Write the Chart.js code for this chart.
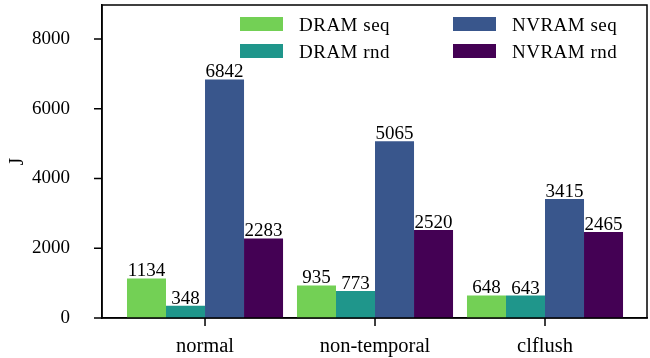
<!DOCTYPE html>
<html>
<head>
<meta charset="utf-8">
<script src="https://cdn.jsdelivr.net/npm/chart.js@4/dist/chart.umd.min.js"></script>
<style>
html,body{margin:0;padding:0;background:#fff;}
#wrap{width:650px;height:358px;}
</style>
</head>
<body>
<div id="wrap"><canvas id="c" width="650" height="358"></canvas></div>
<script>
const categories = ["normal", "non-temporal", "clflush"];
const seriesNames = ["DRAM seq", "DRAM rnd", "NVRAM seq", "NVRAM rnd"];
const dramSeq = [1134, 935, 648];
const dramRnd = [348, 773, 643];
const nvramSeq = [6842, 5065, 3415];
const nvramRnd = [2283, 2520, 2465];
const yTicks = [0, 2000, 4000, 6000, 8000];
const colors = ["#73D055", "#1F968B", "#39568C", "#440154"];

const FONT = "'Liberation Serif', serif";
const allSeries = [dramSeq, dramRnd, nvramSeq, nvramRnd];

const datasets = allSeries.map((vals, i) => ({
  label: seriesNames[i],
  data: vals.map((v, j) => ({x: j, y: v})),
  backgroundColor: colors[i],
  borderWidth: 0,
  barPercentage: 1.0,
  categoryPercentage: 0.918
}));

const framePlugin = {
  id: 'frame',
  afterDatasetsDraw(chart) {
    const ctx = chart.ctx, a = chart.chartArea;
    const xs = chart.scales.x, ys = chart.scales.y;
    ctx.save();
    // value labels
    ctx.font = "19px " + FONT;
    ctx.fillStyle = "#000";
    ctx.textAlign = "center";
    ctx.textBaseline = "alphabetic";
    chart.data.datasets.forEach((ds, i) => {
      const meta = chart.getDatasetMeta(i);
      meta.data.forEach((bar, j) => {
        ctx.fillText(String(ds.data[j].y), bar.x, bar.y - 2);
      });
    });
    // frame
    ctx.strokeStyle = "#000";
    ctx.lineWidth = 1.5;
    ctx.strokeRect(a.left, a.top, a.right - a.left, a.bottom - a.top);
    // tick marks
    ctx.beginPath();
    yTicks.forEach(v => {
      const py = ys.getPixelForValue(v);
      ctx.moveTo(a.left - 8, py); ctx.lineTo(a.left, py);
    });
    categories.forEach((c, i) => {
      const px = xs.getPixelForValue(i);
      ctx.moveTo(px, a.bottom); ctx.lineTo(px, a.bottom + 8);
    });
    ctx.stroke();
    // legend (2 columns, column-major like matplotlib)
    const colX = [240, 453];
    const rowY = [17, 44];
    ctx.font = "19px " + FONT;
    if ('letterSpacing' in ctx) ctx.letterSpacing = "0.5px";
    ctx.textAlign = "left";
    ctx.textBaseline = "alphabetic";
    chart.data.datasets.forEach((ds, i) => {
      const col = Math.floor(i / 2), row = i % 2;
      const x = colX[col], y = rowY[row];
      ctx.fillStyle = ds.backgroundColor;
      ctx.fillRect(x, y, 43, 14);
      ctx.fillStyle = "#000";
      ctx.fillText(ds.label, x + 59, y + 13.5);
    });
    ctx.restore();
  }
};

new Chart(document.getElementById('c'), {
  type: 'bar',
  data: { datasets },
  options: {
    responsive: false,
    animation: false,
    layout: { autoPadding: false, padding: { top: 5, right: 3, left: 0, bottom: 0 } },
    plugins: { legend: { display: false }, tooltip: { enabled: false } },
    scales: {
      x: {
        type: 'linear',
        min: -0.606,
        max: 2.6,
        offset: false,
        afterBuildTicks: axis => { axis.ticks = categories.map((c, i) => ({value: i})); },
        afterFit: axis => { axis.height = 40; axis.paddingLeft = 0; axis.paddingRight = 0; axis.paddingTop = 0; axis.paddingBottom = 0; },
        grid: { display: false },
        border: { display: true, color: '#000', width: 1.5 },
        ticks: {
          color: '#000',
          font: { family: FONT, size: 20.5 },
          padding: 8,
          maxRotation: 0,
          autoSkip: false,
          callback: v => categories[v] !== undefined ? categories[v] : ''
        }
      },
      y: {
        min: 0,
        max: 8975,
        afterBuildTicks: axis => { axis.ticks = yTicks.map(v => ({value: v})); },
        afterFit: axis => { axis.width = 102; axis.paddingLeft = 0; axis.paddingRight = 0; axis.paddingTop = 0; axis.paddingBottom = 0; },
        grid: { display: false },
        border: { display: true, color: '#000', width: 1.5 },
        ticks: {
          color: '#000',
          font: { family: FONT, size: 19 },
          padding: 24,
          callback: v => String(v)
        },
        title: { display: true, text: 'J', color: '#000', font: { family: FONT, size: 20 }, padding: { top: 6, bottom: 0 } }
      }
    }
  },
  plugins: [framePlugin]
});
</script>
</body>
</html>
